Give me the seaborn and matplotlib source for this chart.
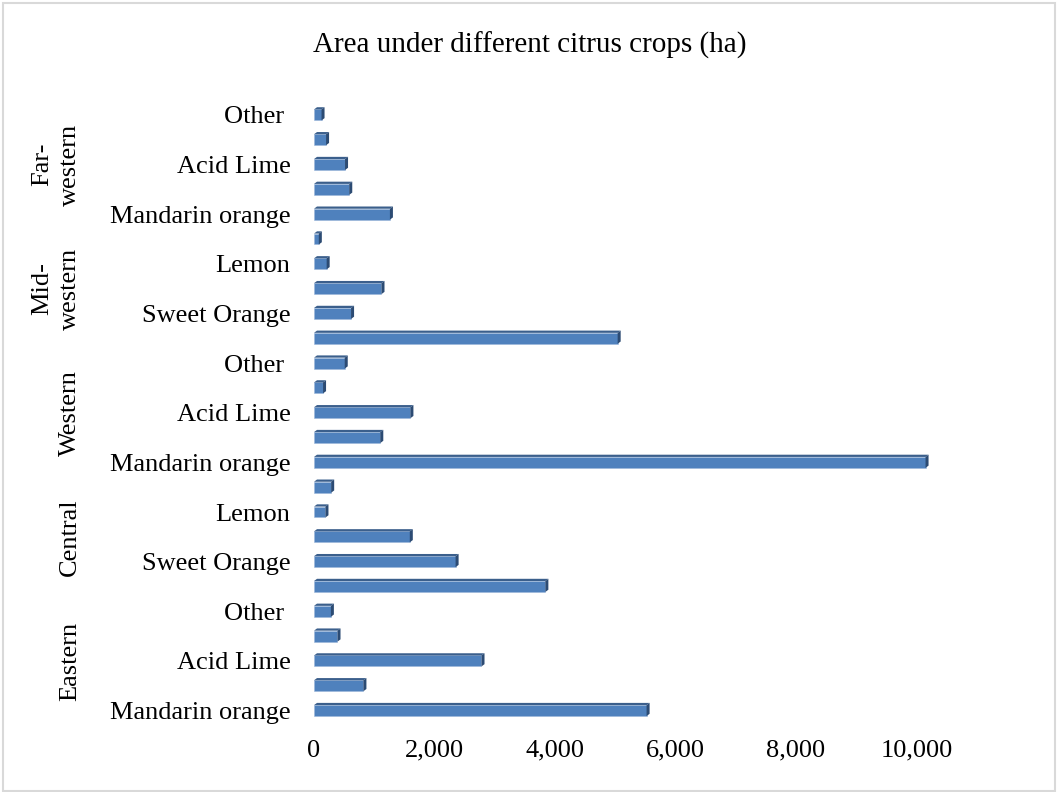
import numpy as np
import pandas as pd
import seaborn as sns
import matplotlib
matplotlib.use("Agg")
import matplotlib.pyplot as plt
from matplotlib.patches import Polygon, Rectangle
from matplotlib.ticker import FuncFormatter
from matplotlib.transforms import ScaledTranslation

# Area (ha) under each citrus crop, by development region
regions = ["Eastern", "Central", "Western", "Mid-western", "Far-western"]
region_labels = ["Eastern", "Central", "Western", "Mid-\nwestern", "Far-\nwestern"]
crops = ["Mandarin orange", "Sweet Orange", "Acid Lime", "Lemon", "Other "]

eastern = [5520, 820, 2780, 390, 280]
central = [3840, 2350, 1590, 190, 285]
western = [10150, 1100, 1600, 150, 510]
mid_western = [5040, 615, 1120, 210, 80]
far_western = [1260, 585, 515, 200, 125]

title = "Area under different citrus crops (ha)"
x_ticks = [0, 2000, 4000, 6000, 8000, 10000]

rows = []
for reg, vals in zip(regions, [eastern, central, western, mid_western, far_western]):
    for crop, v in zip(crops, vals):
        rows.append({"region": reg, "crop": crop, "area": v, "key": f"{reg} | {crop}"})
df = pd.DataFrame(rows)
# first category is drawn at the top
order = list(df["key"])[::-1]

sns.set_theme(style="white")
plt.rcParams["font.family"] = ["Liberation Serif", "DejaVu Serif"]
plt.rcParams["text.color"] = "black"

W, H = 1057, 792
fig = plt.figure(figsize=(W / 100, H / 100), dpi=100)
ax_left, ax_right = 314 / W, 1037 / W
ax_top, ax_bot = 1 - 102.5 / H, 1 - 723 / H
ax = fig.add_axes([ax_left, ax_bot, ax_right - ax_left, ax_top - ax_bot])

face = "#4F81BD"
top_col = "#3B5F8C"
side_col = "#2C4B73"

sns.barplot(data=df, x="area", y="key", order=order, orient="y",
            color=face, saturation=1, width=0.44, ax=ax, zorder=3)

ax.set_xlim(0, 12000)
ax.set_ylim(len(order) - 0.5, -0.5)

# pseudo-3D: a darker top face and right side face on each bar
dx = 50
dy = 0.09
for p in ax.patches[:]:
    x0, y0 = p.get_x(), p.get_y()
    w, h = p.get_width(), p.get_height()
    ytop = y0            # axis is inverted: smaller y is higher
    ybot = y0 + h
    top = Polygon([(x0, ytop), (x0 + dx, ytop - dy), (x0 + w + dx, ytop - dy), (x0 + w, ytop)],
                  closed=True, facecolor=top_col, edgecolor="none", zorder=3)
    side = Polygon([(x0 + w, ytop), (x0 + w + dx, ytop - dy), (x0 + w + dx, ybot - dy), (x0 + w, ybot)],
                   closed=True, facecolor=side_col, edgecolor="none", zorder=3)
    ax.add_patch(top)
    ax.add_patch(side)
    p.set_edgecolor("#9DB7DB")
    p.set_linewidth(0.4)

# every other category gets a label, starting from the bottom bar
n = len(order)
pos = [i for i in range(n) if (n - 1 - i) % 2 == 0]
ax.set_yticks(pos)
ax.set_yticklabels([df["crop"].iloc[::-1].iloc[i] for i in pos])
shift = ScaledTranslation(0, -2.5 / 100, fig.dpi_scale_trans)
for t in ax.get_yticklabels():
    t.set_verticalalignment("center_baseline")
    t.set_transform(t.get_transform() + shift)
ax.set_xticks(x_ticks)
ax.xaxis.set_major_formatter(FuncFormatter(lambda v, _: f"{int(v):,}"))
ax.tick_params(axis="both", length=0, labelsize=19, colors="black")
ax.tick_params(axis="y", pad=17)
ax.tick_params(axis="x", pad=12)
ax.set_xlabel("")
ax.set_ylabel("")
for s in ax.spines.values():
    s.set_visible(False)
ax.grid(False)

# region group labels, rotated, centred on their five bars
for gi, lab in enumerate(region_labels):
    idx = [order.index(f"{regions[gi]} | {c}") for c in crops]
    yc = np.mean(idx)
    ax.annotate(lab, xy=(0, yc), xycoords=("figure fraction", "data"),
                xytext=(81 / W, 0), textcoords=("figure fraction", "offset points"),
                rotation=90, ha="right", va="center", fontsize=19,
                multialignment="center", linespacing=1.35, color="black")

fig.text(530 / W, 1 - 45 / H, title, ha="center", va="center", fontsize=21, color="black")

# chart area border
fig.patches.append(Rectangle((2.5 / W, 1.5 / H), 1052 / W, 788 / H, transform=fig.transFigure,
                             fill=False, edgecolor="#D9D9D9", linewidth=1.5))

fig.savefig("out.png", dpi=100, facecolor="white")
